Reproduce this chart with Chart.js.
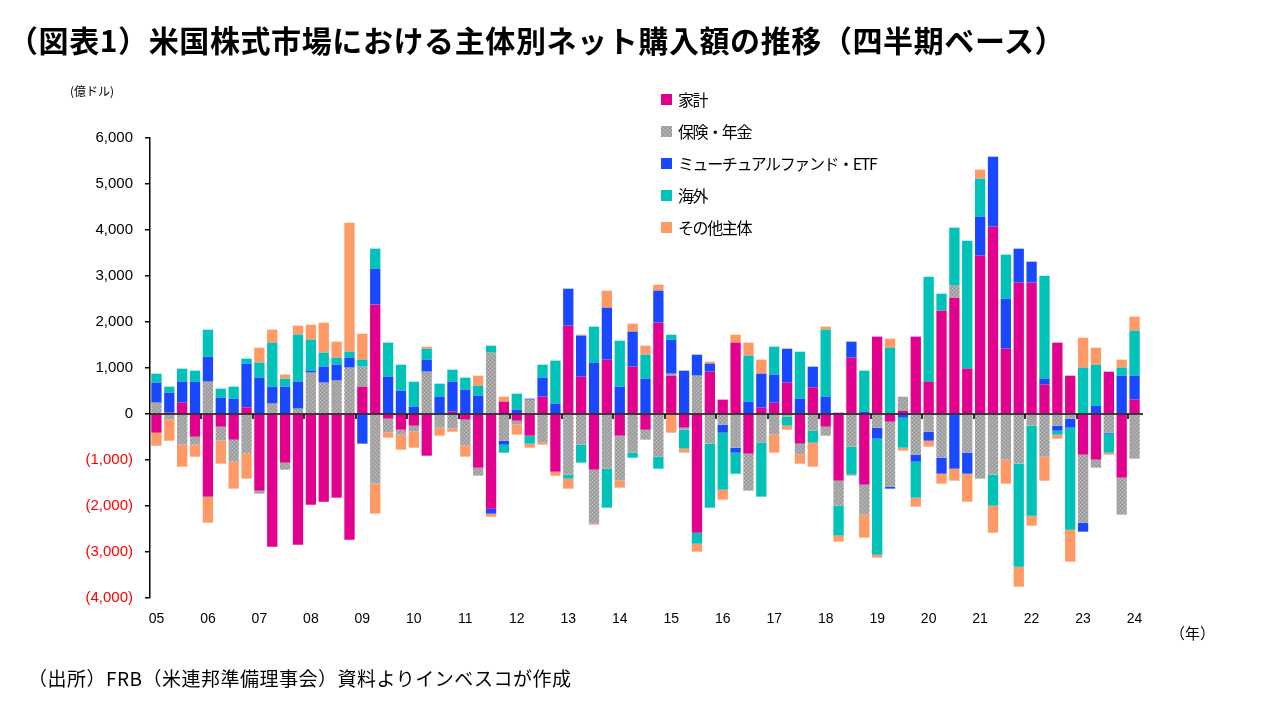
<!DOCTYPE html>
<html lang="ja">
<head>
<meta charset="utf-8">
<script src="https://cdn.jsdelivr.net/npm/chart.js@4"></script>
<style>
body{margin:0;background:#fff;font-family:"Noto Sans CJK JP","Noto Sans",sans-serif;color:#000}
#wrap{position:relative;width:1280px;height:720px;overflow:hidden}
#cv{position:absolute;left:0;top:0}
.t{position:absolute;white-space:nowrap}
#title{left:8px;top:17px;font-size:30px;font-weight:bold;letter-spacing:0.6px}
#unit{left:70px;top:82px;font-size:12px}
#year{left:1170px;top:622px;font-size:15px}
#src{left:28px;top:664px;font-size:19px;letter-spacing:0.5px}
#legend{position:absolute;left:661px;top:83px}
.row{display:flex;align-items:center;height:32px;font-size:16px;letter-spacing:-1.4px}
.box{width:11px;height:11px;margin-right:6px}
</style>
</head>
<body>
<div id="wrap">
<canvas id="cv" width="1280" height="720"></canvas>
<div class="t" id="title">（図表1）米国株式市場における主体別ネット購入額の推移（四半期ベース）</div>
<div class="t" id="unit">(億ドル)</div>
<div class="t" id="year">（年）</div>
<div class="t" id="src">（出所）FRB（米連邦準備理事会）資料よりインベスコが作成</div>
<div id="legend"></div>
</div>
<script>
// years on the axis, one label per Q1
const yearLabels=["05","06","07","08","09","10","11","12","13","14","15","16","17","18","19","20","21","22","23","24"];
const quarters=[];
yearLabels.forEach(y=>{for(let q=1;q<=4;q++) if(quarters.length<77) quarters.push("20"+y+"Q"+q);});

const seriesNames=["家計","保険・年金","ミューチュアルファンド・ETF","海外","その他主体"];
// 億ドル, 2005Q1 .. 2024Q1
const household=[-406,30,246,-493,-1797,-275,-558,145,-1667,-2884,-1058,-2841,-1971,-1906,-1819,-2732,
 594,2377,-101,-341,-254,-906,0,51,-123,-1167,-2058,268,-145,-471,377,-1254,
 1920,812,-1210,1181,-471,1029,-341,1986,833,-297,-2580,920,312,1551,-862,138,
 246,681,-645,580,-275,-1449,1225,-1536,1681,-167,72,1681,703,2246,2529,986,
 3442,4072,1420,2855,2855,638,1551,833,-884,-993,920,-1384,312];
const pension=[246,-116,-667,-174,703,-304,-478,-862,-65,225,-152,116,899,681,725,1007,
 435,-1514,-304,-109,-130,920,-297,-319,-565,-174,1333,-580,-87,312,-623,0,
 -1319,-667,-1174,-1188,-978,-841,-217,-928,43,-43,833,-645,-232,-732,-804,-623,
 -449,-58,-239,-362,-196,-543,-710,-652,-297,-1413,304,-884,-384,-949,261,-841,
 -1406,-1319,-993,-1080,-254,-928,-254,-101,-1478,-174,-406,-804,-971];
const mutualEtf=[435,435,457,703,543,355,333,949,790,370,594,587,43,348,348,217,
 -645,783,812,507,159,261,377,652,529,399,-109,-87,94,22,413,225,
 804,891,1116,1130,594,761,768,696,739,942,457,174,-174,-109,268,739,
 609,739,333,449,377,29,348,51,-239,-43,-80,-152,-196,-348,-1188,-457,
 848,1522,1087,739,457,130,-109,-196,-196,181,-22,833,522];
const foreign=[196,130,283,239,587,196,261,109,326,957,174,1022,674,304,152,130,
 152,435,739,565,543,239,283,261,261,217,152,-174,348,-174,283,935,
 -87,-391,783,-848,1000,-109,522,-261,109,-413,-239,-1391,-1239,-457,1000,-1174,
 609,-196,1022,-261,1457,-652,-609,891,-2522,1442,-652,-783,2283,370,1261,2783,
 826,-674,957,-2239,-1957,2239,-87,-2217,1007,891,-413,174,978];
const others=[-283,-464,-478,-261,-565,-500,-587,-543,326,283,87,196,326,652,348,2804,
 565,-652,-109,-326,-348,43,-174,-65,-239,217,-65,109,-217,-87,-43,-87,
 -217,22,-22,370,-152,174,196,130,-406,-87,-174,43,-217,174,283,304,
 -391,-87,-196,-522,65,-130,-22,-500,-65,196,-65,-196,-130,-217,-261,-609,
 196,-587,-522,-435,-217,-522,-87,-696,652,370,-43,174,304];

const yTicks={min:-4000,max:6000,step:1000};

// dotted grey fill like the original
const pc=document.createElement("canvas");pc.width=4;pc.height=4;
const p=pc.getContext("2d");p.fillStyle="#a6a6a6";p.fillRect(0,0,4,4);
p.fillStyle="#bcbcbc";p.fillRect(0,0,1,1);p.fillRect(2,2,1,1);
p.fillStyle="#929292";p.fillRect(2,0,1,1);p.fillRect(0,2,1,1);
const grey=p.createPattern(pc,"repeat");

const colors=["#e2008f",grey,"#1a48ff","#00c2b8","#ff9966"];
const legendColors=["#e2008f","url("+pc.toDataURL()+")","#1a48ff","#00c2b8","#ff9966"];
const values=[household,pension,mutualEtf,foreign,others];

document.getElementById("legend").innerHTML=seriesNames.map((n,i)=>
 `<div class="row"><span class="box" style="background:${legendColors[i]}"></span>${n}</div>`).join("");

// zero line with year ticks, drawn on top of the bars
const zeroAxis={id:"zeroAxis",afterDatasetsDraw(c){
 const x=c.scales.x,y=c.scales.y,ctx=c.ctx,y0=Math.round(y.getPixelForValue(0));
 ctx.save();ctx.strokeStyle="#000";ctx.lineWidth=1.6;ctx.beginPath();
 ctx.moveTo(x.left,y0);ctx.lineTo(x.right+2,y0);
 for(let i=4;i<quarters.length;i+=4){const px=Math.round((x.getPixelForValue(i-1)+x.getPixelForValue(i))/2);
  ctx.moveTo(px,y0);ctx.lineTo(px,y0+5);}
 ctx.stroke();ctx.restore();}};

new Chart(document.getElementById("cv"),{
 type:"bar",
 data:{labels:quarters,datasets:seriesNames.map((n,i)=>({label:n,data:values[i],backgroundColor:colors[i],
  borderWidth:0,barPercentage:0.8,categoryPercentage:1}))},
 options:{responsive:false,animation:false,devicePixelRatio:1,
  layout:{padding:{left:0,top:138,right:139,bottom:0}},
  plugins:{legend:{display:false},tooltip:{enabled:false}},
  scales:{
   x:{stacked:true,grid:{display:false,drawTicks:false},border:{display:false},
    afterFit:s=>{s.height=122;},
    ticks:{autoSkip:false,maxRotation:0,padding:13,color:"#000",font:{family:"Liberation Sans",size:14},
     callback:(v,i)=>i%4===0?yearLabels[i/4]:""}},
   y:{stacked:true,min:yTicks.min,max:yTicks.max,
    afterFit:s=>{s.width=150;},
    grid:{drawOnChartArea:false,tickLength:5,color:"#000",lineWidth:1.5},
    border:{display:true,color:"#000",width:1.5},
    ticks:{stepSize:yTicks.step,padding:12,font:{family:"Liberation Sans",size:15},
     color:c=>c.tick.value<0?"#ff0000":"#000",
     callback:v=>v<0?"("+Math.abs(v).toLocaleString("en-US")+")":v.toLocaleString("en-US")}}
  }},
 plugins:[zeroAxis]
});
</script>
</body>
</html>
